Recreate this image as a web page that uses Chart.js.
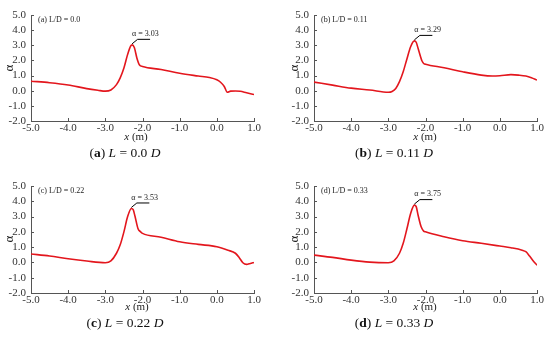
<!DOCTYPE html>
<html><head><meta charset="utf-8">
<script src="https://cdn.jsdelivr.net/npm/chart.js@4/dist/chart.umd.min.js"></script>
<style>
body{margin:0;width:550px;height:347px;background:#fff;position:relative;overflow:hidden;font-family:"Liberation Serif",serif;}
canvas{position:absolute;}
.xt{position:absolute;font-size:11px;transform:translate(-50%,-50%);white-space:nowrap;color:#222;line-height:1;}
.yt{position:absolute;font-size:13px;transform:translate(-50%,-50%) rotate(-90deg);color:#222;line-height:1;}
.cap{position:absolute;font-size:13.5px;transform:translate(-50%,-50%);white-space:nowrap;color:#111;line-height:1;}
</style></head><body>
<canvas id="ca" width="275" height="150" style="left:0;top:0"></canvas>
<canvas id="cb" width="275" height="150" style="left:275px;top:0"></canvas>
<canvas id="cc" width="275" height="150" style="left:0;top:170px"></canvas>
<canvas id="cd" width="275" height="150" style="left:275px;top:170px"></canvas>

<div class="yt" style="left:8px;top:68px">α</div>
<div class="yt" style="left:293px;top:68px">α</div>
<div class="yt" style="left:8px;top:239px">α</div>
<div class="yt" style="left:293px;top:239px">α</div>

<div class="xt" style="left:136px;top:136px"><i>x</i> (m)</div>
<div class="xt" style="left:425px;top:136px"><i>x</i> (m)</div>
<div class="xt" style="left:137px;top:306px"><i>x</i> (m)</div>
<div class="xt" style="left:425px;top:306px"><i>x</i> (m)</div>

<div class="cap" style="left:125px;top:153px">(<b>a</b>) <i>L</i> = 0.0 <i>D</i></div>
<div class="cap" style="left:394px;top:153px">(<b>b</b>) <i>L</i> = 0.11 <i>D</i></div>
<div class="cap" style="left:125px;top:323px">(<b>c</b>) <i>L</i> = 0.22 <i>D</i></div>
<div class="cap" style="left:394px;top:323px">(<b>d</b>) <i>L</i> = 0.33 <i>D</i></div>

<script>
// ---- data ----
const xTickValues = [-5, -4, -3, -2, -1, 0, 1];
const xTickLabels = ["-5.0", "-4.0", "-3.0", "-2.0", "-1.0", "0.0", "1.0"];
const yTickValues = [-2, -1, 0, 1, 2, 3, 4, 5];
const yTickLabels = ["-2.0", "-1.0", "0.0", "1.0", "2.0", "3.0", "4.0", "5.0"];

const panelLabels = ["(a) L/D = 0.0", "(b) L/D = 0.11", "(c) L/D = 0.22", "(d) L/D = 0.33"];
const peakLabels = ["α = 3.03", "α = 3.29", "α = 3.53", "α = 3.75"];

const xA = [-5.0,-4.5,-4.0,-3.5,-3.2,-3.0,-2.85,-2.7,-2.6,-2.5,-2.4,-2.32,-2.28,-2.22,-2.15,-2.08,-2.0,-1.5,-1.0,-0.5,-0.2,0.0,0.1,0.2,0.28,0.37,0.5,0.63,0.8,1.0];
const yA = [0.63,0.53,0.38,0.14,0.03,-0.03,0.05,0.4,0.85,1.5,2.4,2.95,3.03,2.85,2.15,1.7,1.6,1.4,1.15,0.97,0.87,0.72,0.56,0.28,-0.1,-0.03,-0.02,-0.04,-0.14,-0.25];

const xB = [-5.0,-4.5,-4.0,-3.5,-3.0,-2.9,-2.8,-2.7,-2.6,-2.5,-2.4,-2.3,-2.25,-2.2,-2.1,-2.05,-2.0,-1.5,-1.0,-0.5,-0.2,0.0,0.3,0.5,0.7,0.85,1.0];
const yB = [0.57,0.37,0.17,0.05,-0.1,-0.05,0.15,0.6,1.25,2.1,2.9,3.29,3.2,2.8,2.0,1.8,1.75,1.52,1.25,1.03,0.97,0.99,1.06,1.03,0.97,0.86,0.7];

const xC = [-5.0,-4.5,-4.0,-3.5,-3.0,-2.85,-2.7,-2.6,-2.5,-2.4,-2.3,-2.25,-2.2,-2.12,-2.05,-2.0,-1.5,-1.0,-0.5,0.0,0.3,0.5,0.6,0.7,0.8,0.9,1.0];
const yC = [0.55,0.42,0.24,0.09,-0.02,0.1,0.6,1.15,2.0,3.0,3.53,3.45,3.0,2.2,2.0,1.9,1.65,1.35,1.18,1.03,0.8,0.6,0.33,-0.02,-0.13,-0.07,0.0];

const xD = [-5.0,-4.5,-4.0,-3.5,-3.0,-2.85,-2.7,-2.6,-2.5,-2.4,-2.3,-2.25,-2.2,-2.12,-2.05,-2.0,-1.5,-1.0,-0.5,0.0,0.3,0.6,0.7,0.8,0.9,1.0];
const yD = [0.48,0.33,0.15,0.02,-0.02,0.1,0.6,1.25,2.2,3.2,3.75,3.65,3.1,2.35,2.05,2.0,1.68,1.42,1.25,1.07,0.96,0.8,0.7,0.42,0.1,-0.18];

// ---- styling ----
const axisColor = '#555';
const lineColor = '#e3161d';
const tickFont = {family: '"Liberation Serif", serif', size: 11};

const decor = {
  id: 'decor',
  afterDraw(chart, args, opts) {
    const {ctx, chartArea: a, scales: {x, y}} = chart;
    ctx.save();
    ctx.strokeStyle = axisColor; ctx.lineWidth = 1;
    x.ticks.forEach(t => {
      const px = Math.round(x.getPixelForValue(t.value)) + 0.5;
      ctx.beginPath(); ctx.moveTo(px, a.bottom); ctx.lineTo(px, a.bottom - 3); ctx.stroke();
    });
    y.ticks.forEach(t => {
      const py = Math.round(y.getPixelForValue(t.value)) + 0.5;
      ctx.beginPath(); ctx.moveTo(a.left, py); ctx.lineTo(a.left + 3, py); ctx.stroke();
    });
    ctx.fillStyle = '#222';
    ctx.textBaseline = 'middle'; ctx.textAlign = 'left';
    ctx.font = '8px "Liberation Serif", serif';
    ctx.fillText(opts.panel, a.left + 7, a.top + 4.5);
    const d = chart.data.datasets[0].data;
    let k = 0;
    d.forEach((p, i) => { if (p.y > d[k].y) k = i; });
    const el = chart.getDatasetMeta(0).data[k];
    const px = el.x, py = el.y;
    ctx.strokeStyle = '#000';
    ctx.beginPath(); ctx.moveTo(px, py - 1); ctx.lineTo(px + 5.5, py - 5.5); ctx.lineTo(px + 18, py - 5.5); ctx.stroke();
    ctx.font = '8px "Liberation Serif", serif';
    ctx.fillText(opts.peak, px, py - 11);
    ctx.restore();
  }
};

function makeChart(id, xs, ys, idx, left, right, top, bottom) {
  const W = 150;
  new Chart(document.getElementById(id), {
    type: 'line',
    data: {datasets: [{
      data: xs.map((v, i) => ({x: v, y: ys[i]})),
      borderColor: lineColor, borderWidth: 1.6, pointRadius: 0,
      cubicInterpolationMode: 'monotone', fill: false
    }]},
    options: {
      responsive: false, animation: false, devicePixelRatio: 1,
      layout: {padding: {left: 0, right: 275 - right, top: top, bottom: 0}},
      plugins: {legend: {display: false}, tooltip: {enabled: false},
        decor: {panel: panelLabels[idx], peak: peakLabels[idx]}},
      scales: {
        x: {type: 'linear', min: -5, max: 1,
          afterFit: s => { s.height = W - bottom; },
          afterBuildTicks: s => { s.ticks = xTickValues.map(v => ({value: v})); },
          grid: {display: false, drawTicks: false},
          border: {display: true, color: axisColor, width: 1},
          ticks: {font: tickFont, color: '#333', padding: 1, maxRotation: 0, autoSkip: false,
            callback: v => xTickLabels[xTickValues.indexOf(v)]}},
        y: {min: -2, max: 5,
          afterFit: s => { s.width = left; },
          afterBuildTicks: s => { s.ticks = yTickValues.map(v => ({value: v})); },
          grid: {display: false, drawTicks: false},
          border: {display: true, color: axisColor, width: 1},
          ticks: {font: tickFont, color: '#333', padding: 5, autoSkip: false,
            callback: v => yTickLabels[yTickValues.indexOf(v)]}}
      }
    },
    plugins: [decor]
  });
}

makeChart('ca', xA, yA, 0, 31, 254, 15, 121);
makeChart('cb', xB, yB, 1, 39, 262, 15, 121);
makeChart('cc', xC, yC, 2, 31, 254, 16, 123);
makeChart('cd', xD, yD, 3, 39, 262, 16, 123);
</script>
</body></html>
